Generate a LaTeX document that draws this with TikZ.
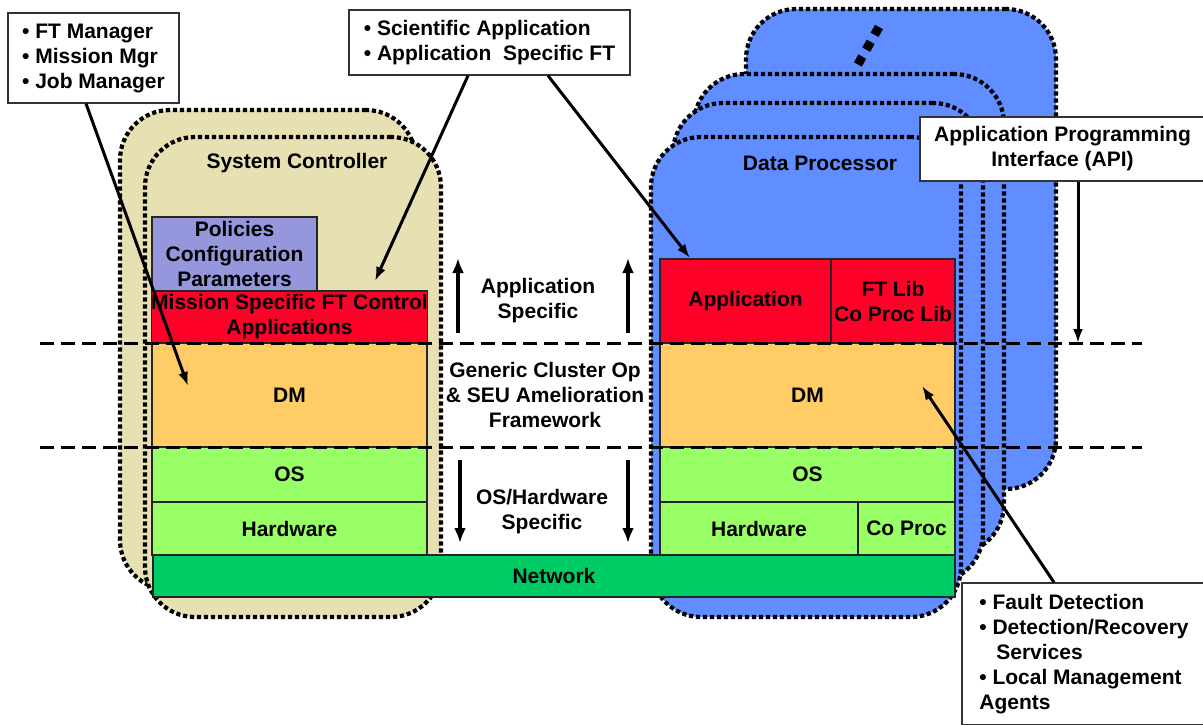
\documentclass[tikz,border=0pt]{standalone}
\usepackage{fontspec}
\setmainfont{Liberation Sans}
\usetikzlibrary{arrows.meta}
\definecolor{sctan}{RGB}{231,224,178}
\definecolor{dpblue}{RGB}{96,141,255}
\definecolor{ftred}{RGB}{255,0,40}
\definecolor{dmorange}{RGB}{255,204,102}
\definecolor{oslime}{RGB}{153,255,102}
\definecolor{netgreen}{RGB}{0,204,102}
\definecolor{polblue}{RGB}{150,150,220}
\begin{document}
\begin{tikzpicture}[x=1pt,y=1pt,yscale=-1,
  every node/.style={font=\bfseries\fontsize{21}{25}\selectfont},
  ctrl/.style={draw,line width=4.2pt,dash pattern=on 4.2pt off 2.8pt,rounded corners=50pt,fill=sctan,minimum width=296pt,minimum height=480pt,inner sep=0pt},
  proc/.style={ctrl,fill=dpblue,minimum width=310pt},
  layer/.style={draw=black!85,line width=1.3pt,inner sep=0pt,align=center},
  callout/.style={draw=black!80,fill=white,line width=1.3pt,inner sep=0pt,align=left},
  level/.style={line width=3pt,dash pattern=on 14pt off 7pt},
  ptr/.style={line width=3pt,-{Latex[length=14pt,width=10pt]}},
  dir/.style={line width=4.5pt,-{Latex[length=15pt,width=12pt]}}]
\useasboundingbox (0,0) rectangle (1203,724);
\node[ctrl] (sc2) at (268,350) {};
\node[ctrl] (sc1) at (293,377) {};
\node[proc] (dp4) at (901,249) {};
\node[proc] (dp3) at (849,314) {};
\node[proc] (dp2) at (828,343) {};
\node[proc] (dp1) at (806,377) {};
\coordinate (d1) at (879,27);
\coordinate (d2) at (857,66);
\draw[line width=9pt,dash pattern=on 9pt off 8pt] (d1) -- (d2);
\node (sctitle) at (297,163) {System Controller};
\node (dptitle) at (820,163) {Data Processor};
\node[layer,fill=polblue,minimum width=165pt,minimum height=74pt] (pol) at (234.5,254) {Policies\\Configuration\\Parameters};
\node[layer,fill=ftred,minimum width=275pt,minimum height=52pt] (msft) at (289.5,317) {Mission Specific FT Control\\Applications};
\node[layer,fill=dmorange,minimum width=275pt,minimum height=104pt] (dm1) at (289.5,395) {DM};
\node[layer,fill=oslime,minimum width=275pt,minimum height=55pt] (os1) at (289.5,474.5) {OS};
\node[layer,fill=oslime,minimum width=275pt,minimum height=53pt] (hw1) at (289.5,528.5) {Hardware};
\node[layer,fill=ftred,minimum width=171pt,minimum height=84pt] (app) at (745.5,301) {Application};
\node[layer,fill=ftred,minimum width=124pt,minimum height=84pt] (ftlib) at (893,301) {FT Lib\\Co Proc Lib};
\node[layer,fill=dmorange,minimum width=295pt,minimum height=104pt] (dm2) at (807.5,395) {DM};
\node[layer,fill=oslime,minimum width=295pt,minimum height=55pt] (os2) at (807.5,474.5) {OS};
\node[layer,fill=oslime,minimum width=198pt,minimum height=53pt] (hw2) at (759,528.5) {Hardware};
\node[layer,fill=oslime,minimum width=97pt,minimum height=53pt] (cop) at (906.5,528.5) {Co Proc};
\node[layer,fill=netgreen,minimum width=802pt,minimum height=42pt] (net) at (554,576) {Network};
\node[align=center] (appspec) at (538,301) {Application\\Specific};
\node[align=center] (generic) at (545,395) {Generic Cluster Op\\\& SEU Amelioration\\Framework};
\node[align=center] (osspec) at (542,512) {OS/Hardware\\Specific};
\coordinate (l1a) at (40,343);
\coordinate (l1b) at (1142,343);
\coordinate (l2a) at (40,447);
\coordinate (l2b) at (1142,447);
\draw[level] (l1a) -- (l1b);
\draw[level] (l2a) -- (l2b);
\coordinate (u1a) at (458,333);
\coordinate (u1b) at (458,258);
\coordinate (u2a) at (628,333);
\coordinate (u2b) at (628,258);
\coordinate (w1a) at (460,460);
\coordinate (w1b) at (460,543);
\coordinate (w2a) at (628,460);
\coordinate (w2b) at (628,543);
\draw[dir] (u1a) -- (u1b);
\draw[dir] (u2a) -- (u2b);
\draw[dir] (w1a) -- (w1b);
\draw[dir] (w2a) -- (w2b);
\node[callout,minimum width=171pt,minimum height=90pt] (ftm) at (93.5,58) {• FT Manager\\• Mission Mgr\\• Job Manager};
\node[callout,minimum width=281pt,minimum height=65pt] (sci) at (489.5,42.5) {• Scientific Application\\• Application~ Specific FT};
\node[callout,align=center,minimum width=285pt,minimum height=64pt] (api) at (1062.5,149) {Application Programming\\Interface (API)};
\node[callout,minimum width=244pt,minimum height=142pt] (fault) at (1084,654) {• Fault Detection\\• Detection/Recovery\\\hspace*{17pt}Services\\• Local Management\\Agents};
\coordinate (p1) at (188,386);
\coordinate (p2) at (375,281);
\coordinate (p3) at (690,258);
\coordinate (p4) at (1078,343);
\coordinate (p5) at (922,386);
\draw[ptr] ([xshift=-7.5pt]ftm.south) -- (p1);
\draw[ptr] ([xshift=-21.5pt]sci.south) -- (p2);
\draw[ptr] ([xshift=58.5pt]sci.south) -- (p3);
\draw[ptr] ([xshift=15.5pt]api.south) -- (p4);
\draw[ptr] ([xshift=-30pt]fault.north) -- (p5);
\end{tikzpicture}
\end{document}
